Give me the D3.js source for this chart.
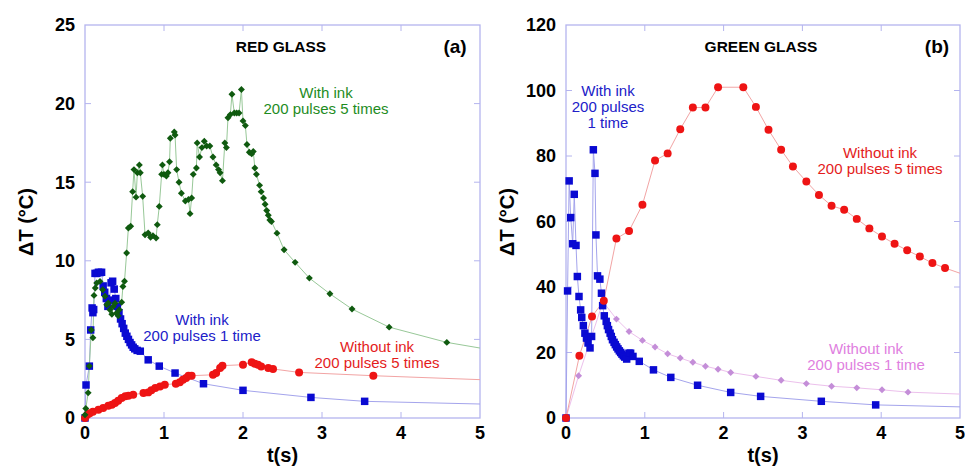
<!DOCTYPE html>
<html>
<head>
<meta charset="utf-8">
<script src="https://cdn.jsdelivr.net/npm/d3@7"></script>
<style>
  body { margin: 0; background: #fff; }
  svg { display: block; }
  text { font-family: "Liberation Sans", Arial, Helvetica, sans-serif; }
</style>
</head>
<body>
<svg width="965" height="466"></svg>
<script>
// ---- data: [t (s), dT (degC)] ----
// panel (a) red glass
const redWithInk5 = [[0,0.2],[0.01,0.6],[0.04,1.6],[0.055,3.3],[0.08,5.6],[0.1,5.1],[0.114,7.8],[0.13,8.27],[0.148,8.59],[0.19,8.69],[0.224,8.16],[0.253,7.74],[0.275,7.2],[0.295,7.31],[0.316,6.89],[0.34,6.6],[0.358,7.1],[0.38,7.3],[0.4,6.68],[0.42,6.5],[0.434,6.89],[0.464,7.36],[0.48,8.37],[0.5,8.7],[0.527,10.5],[0.549,12.09],[0.578,12.2],[0.603,14.4],[0.62,15.8],[0.646,14.05],[0.663,15.6],[0.688,16.1],[0.7,15.6],[0.73,14.1],[0.76,11.66],[0.8,11.77],[0.83,11.5],[0.86,11.6],[0.9,11.45],[0.915,12.3],[0.94,13.46],[0.97,15.5],[0.98,16.1],[1.0,15.5],[1.03,15.4],[1.05,15.6],[1.07,16.3],[1.08,17.8],[1.13,18.2],[1.14,18.0],[1.16,15.8],[1.19,15.0],[1.22,14.3],[1.27,13.8],[1.31,13.9],[1.33,13.0],[1.35,14.0],[1.37,15.5],[1.41,15.9],[1.42,17.5],[1.45,16.6],[1.48,17.2],[1.51,17.6],[1.54,17.3],[1.58,17.3],[1.62,16.6],[1.66,16.1],[1.69,15.8],[1.71,15.6],[1.74,15.1],[1.77,17.5],[1.79,17.2],[1.81,19.1],[1.84,19.3],[1.86,20.6],[1.89,19.4],[1.92,19.4],[1.95,19.4],[1.98,20.9],[2.0,18.9],[2.03,18.6],[2.05,17.4],[2.08,16.9],[2.11,16.8],[2.13,16.95],[2.15,15.9],[2.17,15.5],[2.21,14.8],[2.23,14.4],[2.26,14.0],[2.28,13.6],[2.3,13.2],[2.32,12.9],[2.34,12.6],[2.36,12.5],[2.43,11.76],[2.52,10.7],[2.66,9.9],[2.84,8.9],[3.1,7.9],[3.38,6.93],[3.85,5.78],[4.58,4.81]];
const redWithInk1 = [[0,0],[0.013,2.1],[0.055,3.3],[0.072,5.6],[0.09,7.0],[0.1,6.7],[0.11,6.9],[0.127,9.2],[0.15,9.2],[0.17,9.27],[0.19,9.25],[0.21,9.27],[0.23,8.4],[0.25,8.0],[0.27,7.6],[0.29,7.1],[0.31,7.5],[0.33,8.6],[0.35,8.7],[0.37,8.2],[0.39,7.6],[0.41,7.1],[0.43,6.7],[0.45,6.3],[0.47,6.0],[0.49,5.7],[0.51,5.4],[0.53,5.2],[0.55,5.0],[0.57,4.8],[0.59,4.65],[0.61,4.5],[0.63,4.4],[0.66,4.3],[0.7,4.25],[0.8,3.7],[0.94,3.3],[1.14,2.86],[1.5,2.18],[2.0,1.76],[2.86,1.31],[3.54,1.06]];
const redNoInk5 = [[0,0],[0.03,0.21],[0.06,0.3],[0.1,0.4],[0.17,0.53],[0.23,0.64],[0.295,0.78],[0.34,0.85],[0.38,0.95],[0.42,1.1],[0.464,1.27],[0.51,1.38],[0.55,1.42],[0.61,1.48],[0.74,1.59],[0.8,1.63],[0.84,1.76],[0.89,1.91],[0.95,2.01],[1.01,2.12],[1.15,2.18],[1.2,2.27],[1.24,2.44],[1.28,2.54],[1.31,2.69],[1.35,2.69],[1.62,2.75],[1.66,2.86],[1.71,3.18],[1.74,3.33],[2.0,3.39],[2.11,3.54],[2.15,3.45],[2.19,3.39],[2.23,3.28],[2.32,3.18],[2.38,3.12],[2.71,2.9],[3.65,2.69]];
// where each curve leaves the frame at t = 5 (order: ink5, ink1, noInk5)
const redTailAt5 = [4.45, 0.89, 2.44];

// panel (b) green glass
const greenWithInk1 = [[0,0],[0.02,38.8],[0.04,72.4],[0.06,61.2],[0.085,53.2],[0.105,68.3],[0.127,52.7],[0.144,43.2],[0.165,37.1],[0.186,33.0],[0.2,30.7],[0.22,28.2],[0.24,25.9],[0.26,24.4],[0.28,22.9],[0.305,21.4],[0.325,24.9],[0.347,81.9],[0.368,74.7],[0.38,55.9],[0.4,43.4],[0.43,42.4],[0.45,38.1],[0.465,34.3],[0.486,31.2],[0.51,29.5],[0.525,28.2],[0.54,27.0],[0.56,25.9],[0.575,24.9],[0.59,23.9],[0.61,23.1],[0.626,22.4],[0.643,21.7],[0.66,21.1],[0.677,20.5],[0.694,20.0],[0.71,19.5],[0.728,19.0],[0.745,18.6],[0.77,18.0],[0.8,19.8],[0.82,19.8],[0.85,18.8],[0.93,17.3],[1.11,14.7],[1.33,12.4],[1.67,10.0],[2.09,7.8],[2.47,6.6],[3.24,5.1],[3.93,4.0]];
const greenNoInk5 = [[0,0],[0.17,19.0],[0.33,31.0],[0.48,35.8],[0.64,54.8],[0.8,57.1],[0.97,65.1],[1.13,78.6],[1.29,80.8],[1.45,88.2],[1.61,94.8],[1.77,94.8],[1.93,101],[2.25,101],[2.41,95.0],[2.57,88.0],[2.73,81.9],[2.88,76.8],[3.05,72.2],[3.21,68.1],[3.37,64.8],[3.53,63.6],[3.69,60.8],[3.85,57.9],[4.01,55.4],[4.17,53.2],[4.33,51.2],[4.49,49.3],[4.65,47.3],[4.81,45.8]];
const greenNoInk1 = [[0,0],[0.16,12.9],[0.47,35.5],[0.64,30.2],[0.8,26.4],[0.97,23.7],[1.13,21.7],[1.29,19.6],[1.45,18.3],[1.61,17.0],[1.77,15.8],[1.93,14.9],[2.09,13.9],[2.41,12.7],[2.73,11.5],[3.05,10.5],[3.37,9.7],[3.69,9.2],[4.01,8.6],[4.34,7.9]];
// order: ink1, noInk5, noInk1
const greenTailAt5 = [3.4, 44.2, 7.3];

const xTicks = [0, 1, 2, 3, 4, 5];
const redYTicks = [0, 5, 10, 15, 20, 25];
const greenYTicks = [0, 20, 40, 60, 80, 100, 120];

// ---- drawing ----
const svg = d3.select("svg");
const frameColor = "#b4b4ee";

const shapes = {
  square: d3.symbol().type(d3.symbolSquare).size(56)(),
  circle: d3.symbol().type(d3.symbolCircle).size(50)(),
  diamond: d3.symbol().type(d3.symbolSquare).size(24)()
};

function panel(o) {
  const x = d3.scaleLinear().domain([0, 5]).range([o.left, o.right]);
  const y = d3.scaleLinear().domain([0, o.yMax]).range([418, 25]);
  const g = svg.append("g");

  // inward ticks on all four sides
  const tk = 6;
  xTicks.slice(1, -1).forEach(t => {
    g.append("line").attr("x1", x(t)).attr("x2", x(t)).attr("y1", y(0)).attr("y2", y(0) - tk).attr("stroke", frameColor);
    g.append("line").attr("x1", x(t)).attr("x2", x(t)).attr("y1", y(o.yMax)).attr("y2", y(o.yMax) + tk).attr("stroke", frameColor);
  });
  o.yTicks.slice(1, -1).forEach(v => {
    g.append("line").attr("x1", x(0)).attr("x2", x(0) + tk).attr("y1", y(v)).attr("y2", y(v)).attr("stroke", frameColor);
    g.append("line").attr("x1", x(5)).attr("x2", x(5) - tk).attr("y1", y(v)).attr("y2", y(v)).attr("stroke", frameColor);
  });
  g.append("rect")
    .attr("x", x(0)).attr("y", y(o.yMax))
    .attr("width", x(5) - x(0)).attr("height", y(0) - y(o.yMax))
    .attr("fill", "none").attr("stroke", frameColor).attr("stroke-width", 1.3);

  // tick labels
  g.selectAll(".xl").data(xTicks).join("text")
    .attr("x", d => x(d)).attr("y", 439)
    .attr("text-anchor", "middle").attr("font-size", 18).attr("font-weight", "bold")
    .text(d => d);
  g.selectAll(".yl").data(o.yTicks).join("text")
    .attr("x", x(0) - 10).attr("y", d => y(d)).attr("dy", "0.35em")
    .attr("text-anchor", "end").attr("font-size", 18).attr("font-weight", "bold")
    .text(d => d);

  // axis titles
  g.append("text").attr("x", (x(0) + x(5)) / 2).attr("y", 462)
    .attr("text-anchor", "middle").attr("font-size", 20).attr("font-weight", "bold").text("t(s)");
  g.append("text")
    .attr("transform", `translate(${o.left - 52},222) rotate(-90)`)
    .attr("text-anchor", "middle").attr("font-size", 20).attr("font-weight", "bold").text("\u0394T (\u00B0C)");

  // title and panel letter
  g.append("text").attr("x", o.titleX).attr("y", 52)
    .attr("text-anchor", "middle").attr("font-size", 15.5).attr("font-weight", "bold").text(o.title);
  g.append("text").attr("x", o.letterX).attr("y", 53)
    .attr("text-anchor", "middle").attr("font-size", 19).attr("font-weight", "bold").text(o.letter);

  const line = d3.line().x(d => x(d[0])).y(d => y(d[1]));

  // lines first, markers on top
  o.series.forEach(s => {
    g.append("path").datum(s.data.concat([[5, s.tail]]))
      .attr("d", line).attr("fill", "none")
      .attr("stroke", s.lineColor).attr("stroke-width", 1);
  });
  o.series.forEach(s => {
    g.selectAll(null).data(s.data).join("path")
      .attr("d", shapes[s.shape])
      .attr("transform", d => `translate(${x(d[0])},${y(d[1])})` + (s.shape === "diamond" ? " rotate(45)" : ""))
      .attr("fill", s.color);
  });

  // annotations
  o.notes.forEach(n => {
    n.lines.forEach((t, i) => {
      g.append("text").attr("x", n.x).attr("y", n.y + i * 16)
        .attr("text-anchor", "middle").attr("font-size", 15)
        .attr("fill", n.color).text(t);
    });
  });
}

panel({
  left: 85, right: 480, yMax: 25, yTicks: redYTicks,
  title: "RED GLASS", titleX: 281, letter: "(a)", letterX: 455,
  series: [
    { data: redWithInk1, tail: redTailAt5[1], shape: "square", color: "#0a0ad2", lineColor: "#a4a4ec" },
    { data: redNoInk5, tail: redTailAt5[2], shape: "circle", color: "#ee1414", lineColor: "#f2a4a4" },
    { data: redWithInk5, tail: redTailAt5[0], shape: "diamond", color: "#0f5a0f", lineColor: "#98c898" }
  ],
  notes: [
    { x: 326, y: 98, color: "#1e8c1e", lines: ["With ink", "200 pulses 5 times"] },
    { x: 202, y: 325, color: "#2020c8", lines: ["With ink", "200 pulses 1 time"] },
    { x: 377, y: 352, color: "#e41c1c", lines: ["Without ink", "200 pulses 5 times"] }
  ]
});

panel({
  left: 566, right: 960, yMax: 120, yTicks: greenYTicks,
  title: "GREEN GLASS", titleX: 761, letter: "(b)", letterX: 937,
  series: [
    { data: greenNoInk1, tail: greenTailAt5[2], shape: "diamond", color: "#c48ed8", lineColor: "#ecc0ec" },
    { data: greenWithInk1, tail: greenTailAt5[0], shape: "square", color: "#0a0ad2", lineColor: "#a4a4ec" },
    { data: greenNoInk5, tail: greenTailAt5[1], shape: "circle", color: "#ee1414", lineColor: "#f2a4a4" }
  ],
  notes: [
    { x: 608, y: 96, color: "#2020c8", lines: ["With ink", "200 pulses", "1 time"] },
    { x: 880, y: 158, color: "#e41c1c", lines: ["Without ink", "200 pulses 5 times"] },
    { x: 866, y: 354, color: "#e080e0", lines: ["Without ink", "200 pulses 1 time"] }
  ]
});
</script>
</body>
</html>
